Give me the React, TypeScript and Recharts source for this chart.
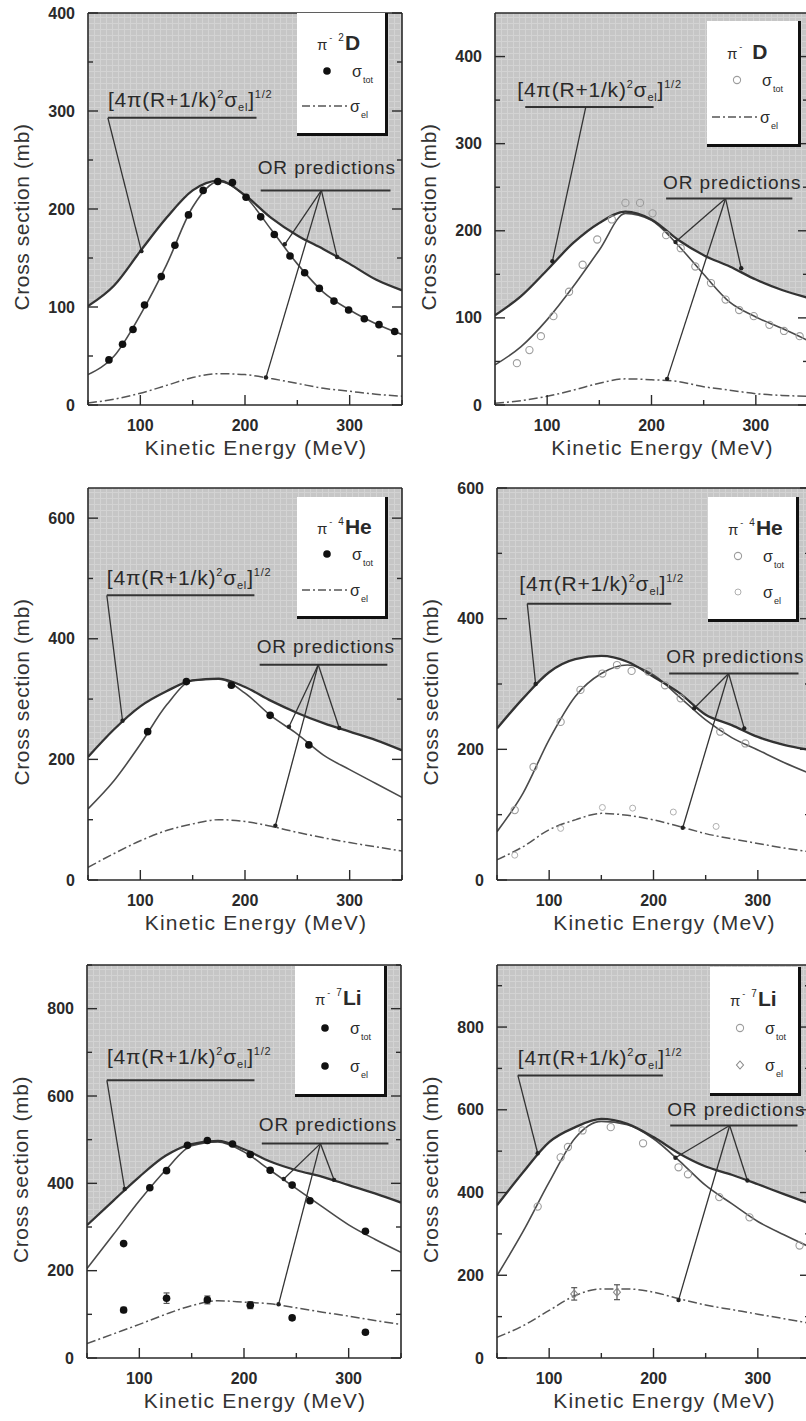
import React from 'react'
import {
  ComposedChart,
  Area,
  Line,
  Scatter,
  XAxis,
  YAxis,
  ReferenceLine,
  ReferenceDot,
  Legend,
  ErrorBar,
} from 'recharts'

const FONT = '"Liberation Sans", Arial, Helvetica, sans-serif'
const INK = '#2a2a2a'
const LW = 90
const TH = 14
const RW = 4
const BH = 70

// energies (MeV) where the curves are sampled
const energy = [50, 75, 100, 125, 150, 175, 200, 225, 250, 275, 300, 325, 350]
const xMajor = [100, 200, 300]
const xMinor = [50, 150, 250, 350]

// pi- 2D (top left)
const boundA = [101, 122, 157, 191, 219, 229, 214, 191, 173, 159, 144, 128, 117]
const orTotA = [31, 50, 92, 143, 202, 228, 213, 179, 144, 115, 97, 83, 72]
const orElA = [2, 6, 12, 20, 28, 32, 31, 27, 22, 17, 14, 11, 9]
const totEA = [70, 83, 93, 104, 120, 133, 146, 160, 174, 188, 201, 215, 228, 243, 257, 271, 285, 299, 314, 328, 343]
const totVA = [46, 62, 77, 102, 131, 163, 194, 219, 228, 227, 212, 192, 174, 152, 135, 119, 106, 97, 88, 82, 75]
const yMajorA = [0, 100, 200, 300, 400]
const yMinorA = [50, 150, 250, 350]

// pi- D (top right)
const boundB = [103, 125, 155, 186, 209, 222, 213, 190, 172, 159, 144, 132, 123]
const orTotB = [46, 67, 98, 136, 178, 220, 212, 184, 150, 118, 101, 88, 74]
const orElB = [2, 5, 10, 17, 25, 30, 29, 27, 21, 17, 13, 11, 10]
const totEB = [71, 83, 94, 106, 121, 134, 148, 162, 175, 189, 201, 214, 228, 242, 257, 271, 284, 298, 313, 327, 342]
const totVB = [48, 63, 79, 102, 130, 161, 190, 213, 232, 232, 220, 195, 180, 159, 140, 121, 109, 102, 92, 85, 79]
const yMajorB = [0, 100, 200, 300, 400]
const yMinorB = [50, 150, 250, 350]

// pi- 4He (middle left)
const boundC = [204, 250, 288, 313, 331, 334, 320, 297, 277, 260, 246, 232, 215]
const orTotC = [118, 165, 225, 290, 331, 333, 310, 272, 242, 207, 183, 160, 137]
const orElC = [21, 44, 65, 82, 93, 100, 97, 89, 79, 70, 62, 55, 48]
const totEC = [107, 144, 187, 224, 261]
const totVC = [246, 329, 323, 273, 224]
const yMajorC = [0, 200, 400, 600]
const yMinorC = [100, 300, 500]

// pi- 4He (middle right)
const boundD = [232, 278, 318, 338, 343, 334, 311, 286, 253, 237, 219, 207, 199]
const orTotD = [74, 133, 215, 281, 316, 329, 314, 280, 245, 218, 199, 180, 163]
const orElD = [31, 51, 77, 92, 102, 99, 92, 82, 71, 63, 56, 49, 43]
const totED = [67, 85, 111, 130, 151, 165, 179, 195, 211, 226, 264, 288]
const totVD = [107, 173, 242, 291, 316, 329, 320, 319, 298, 278, 227, 209]
const elED = [67, 111, 151, 180, 219, 260]
const elVD = [38, 79, 111, 110, 104, 82]
const yMajorD = [0, 200, 400, 600]
const yMinorD = [100, 300, 500]

// pi- 7Li (bottom left)
const boundE = [304, 360, 415, 463, 490, 497, 478, 450, 430, 415, 396, 377, 356]
const orTotE = [205, 282, 360, 430, 486, 495, 472, 430, 388, 346, 305, 272, 242]
const orElE = [33, 55, 77, 100, 120, 131, 128, 124, 115, 105, 96, 86, 77]
const totEE = [85, 110, 126, 146, 165, 189, 206, 225, 246, 263, 316]
const totVE = [262, 390, 429, 487, 498, 490, 466, 430, 396, 360, 290]
const elEE = [85, 126, 165, 206, 246, 316]
const elVE = [110, 137, 133, 121, 92, 59]
const elErrE = [6, 12, 9, 8, 5, 4]
const yMajorE = [0, 200, 400, 600, 800]
const yMinorE = [100, 300, 500, 700, 900]

// pi- 7Li (bottom right)
const boundF = [369, 449, 522, 558, 578, 566, 534, 494, 463, 443, 420, 396, 373]
const orTotF = [199, 306, 425, 532, 572, 564, 530, 476, 417, 373, 330, 298, 268]
const orElF = [50, 78, 115, 151, 167, 167, 159, 143, 128, 117, 106, 95, 84]
const totEF = [89, 111, 118, 132, 159, 190, 224, 233, 263, 292, 340]
const totVF = [366, 485, 510, 550, 558, 519, 461, 444, 389, 340, 272]
const elEF = [124, 165]
const elVF = [155, 159]
const elErrF = [15, 18]
const yMajorF = [0, 200, 400, 600, 800]
const yMinorF = [100, 300, 500, 700, 900]

type Pt = { x: number; y: number; err?: number }
const toPts = (xs: number[], ys: number[], errs?: number[]): Pt[] =>
  xs.map((x, i) => ({ x, y: ys[i], err: errs ? errs[i] : 0 }))
const toCurve = (ys: number[]): Pt[] => energy.map((x, i) => ({ x, y: ys[i] }))

type Rect = { x: number; y: number; w: number; h: number }
interface PanelCfg {
  id: string
  plot: Rect
  legend: Rect
  yMax: number
  yMajor: number[]
  yMinor: number[]
  bound: number[]
  orTot: number[]
  orEl: number[]
  tot: Pt[]
  el?: Pt[]
  totKind: string
  elKind?: string
  mass: string
  nucleus: string
  formula: { x1: number; x2: number; y: number; from: number; tip: [number, number]; dx: number; dy: number }
  pred: { x1: number; x2: number; y: number; apex: number; tips: [number, number][]; dy: number }
}

const panels: PanelCfg[] = [
  {
    id: 'a', plot: { x: 88, y: 13, w: 314, h: 392 }, legend: { x: 297, y: 13, w: 91, h: 123 },
    yMax: 400, yMajor: yMajorA, yMinor: yMinorA,
    bound: boundA, orTot: orTotA, orEl: orElA, tot: toPts(totEA, totVA), totKind: 'dot',
    mass: '2', nucleus: 'D',
    formula: { x1: 69, x2: 211, y: 293, from: 69, tip: [101, 157], dx: 0, dy: 11 },
    pred: { x1: 215, x2: 339, y: 219, apex: 273, tips: [[238, 164], [288, 151], [220, 28]], dy: 16 },
  },
  {
    id: 'b', plot: { x: 495, y: 13, w: 313, h: 392 }, legend: { x: 707, y: 21, w: 94, h: 126 },
    yMax: 450, yMajor: yMajorB, yMinor: yMinorB,
    bound: boundB, orTot: orTotB, orEl: orElB, tot: toPts(totEB, totVB), totKind: 'ring',
    mass: '', nucleus: 'D',
    formula: { x1: 79, x2: 202, y: 342, from: 137, tip: [105, 165], dx: -8, dy: 10 },
    pred: { x1: 214, x2: 335, y: 237, apex: 271, tips: [[223, 187], [286, 157], [215, 30]], dy: 10 },
  },
  {
    id: 'c', plot: { x: 88, y: 488, w: 314, h: 392 }, legend: { x: 297, y: 497, w: 91, h: 122 },
    yMax: 650, yMajor: yMajorC, yMinor: yMinorC,
    bound: boundC, orTot: orTotC, orEl: orElC, tot: toPts(totEC, totVC), totKind: 'dot',
    mass: '4', nucleus: 'He',
    formula: { x1: 68, x2: 209, y: 472, from: 68, tip: [83, 264], dx: 0, dy: 10 },
    pred: { x1: 214, x2: 336, y: 357, apex: 270, tips: [[242, 254], [290, 252], [229, 90]], dy: 12 },
  },
  {
    id: 'd', plot: { x: 497, y: 488, w: 313, h: 392 }, legend: { x: 708, y: 497, w: 91, h: 125 },
    yMax: 600, yMajor: yMajorD, yMinor: yMinorD,
    bound: boundD, orTot: orTotD, orEl: orElD, tot: toPts(totED, totVD), el: toPts(elED, elVD),
    totKind: 'ring', elKind: 'ringSmall',
    mass: '4', nucleus: 'He',
    formula: { x1: 79, x2: 217, y: 423, from: 79, tip: [87, 300], dx: -8, dy: 13 },
    pred: { x1: 215, x2: 339, y: 316, apex: 272, tips: [[239, 263], [287, 232], [228, 80]], dy: 11 },
  },
  {
    id: 'e', plot: { x: 87, y: 965, w: 314, h: 393 }, legend: { x: 295, y: 966, w: 92, h: 131 },
    yMax: 900, yMajor: yMajorE, yMinor: yMinorE,
    bound: boundE, orTot: orTotE, orEl: orElE, tot: toPts(totEE, totVE), el: toPts(elEE, elVE, elErrE),
    totKind: 'dot', elKind: 'dot',
    mass: '7', nucleus: 'Li',
    formula: { x1: 69, x2: 210, y: 636, from: 69, tip: [86, 387], dx: 0, dy: 16 },
    pred: { x1: 217, x2: 338, y: 491, apex: 273, tips: [[238, 410], [286, 408], [233, 123]], dy: 13 },
  },
  {
    id: 'f', plot: { x: 497, y: 965, w: 313, h: 393 }, legend: { x: 710, y: 967, w: 91, h: 129 },
    yMax: 950, yMajor: yMajorF, yMinor: yMinorF,
    bound: boundF, orTot: orTotF, orEl: orElF, tot: toPts(totEF, totVF), el: toPts(elEF, elVF, elErrF),
    totKind: 'ring', elKind: 'diamond',
    mass: '7', nucleus: 'Li',
    formula: { x1: 70, x2: 209, y: 683, from: 70, tip: [89, 495], dx: 0, dy: 10 },
    pred: { x1: 216, x2: 338, y: 562, apex: 273, tips: [[221, 484], [290, 429], [224, 140]], dy: 10 },
  },
]

function Marker({ kind, cx, cy }: { kind?: string; cx: number; cy: number }) {
  if (kind === 'dot') return <circle cx={cx} cy={cy} r={3.8} fill="#111" />
  if (kind === 'ring') return <circle cx={cx} cy={cy} r={3.6} fill="none" stroke="#9d9d9d" strokeWidth={1.1} />
  if (kind === 'ringSmall') return <circle cx={cx} cy={cy} r={3} fill="none" stroke="#b0b0b0" strokeWidth={1} />
  if (kind === 'diamond')
    return (
      <path
        d={`M${cx} ${cy - 4}L${cx + 3.5} ${cy}L${cx} ${cy + 4}L${cx - 3.5} ${cy}Z`}
        fill="none"
        stroke="#8a8a8a"
        strokeWidth={1.1}
      />
    )
  return null
}

function Sigma({ x, y, sub }: { x: number; y: number; sub: string }) {
  return (
    <text x={x} y={y} fill={INK} fontFamily={FONT} fontSize={16}>
      σ
      <tspan fontSize={9} dy={6} dx={1}>{sub}</tspan>
    </text>
  )
}

function LegendCard({ cfg }: { cfg: PanelCfg }) {
  const { w, h } = cfg.legend
  const tY = Math.round(h * 0.3)
  const r1 = Math.round(h * 0.47)
  const r2 = Math.round(h * 0.76)
  return (
    <div
      style={{
        width: w,
        height: h,
        background: '#fff',
        borderRight: '3px solid #111',
        borderBottom: '3px solid #111',
        boxSizing: 'border-box',
      }}
    >
      <svg width={w} height={h} style={{ display: 'block', overflow: 'visible' }}>
        <text x={20} y={tY} fill={INK} fontFamily={FONT}>
          <tspan fontSize={15}>π</tspan>
          <tspan fontSize={9} dy={-9} dx={2}>-</tspan>
          <tspan fontSize={10} dx={6}>{cfg.mass || ' '}</tspan>
          <tspan fontSize={21} fontWeight="bold" dy={9} dx={1}>{cfg.nucleus}</tspan>
        </text>
        <Marker kind={cfg.totKind} cx={30} cy={r1} />
        <Sigma x={55} y={r1 + 6} sub="tot" />
        {cfg.elKind ? (
          <Marker kind={cfg.elKind} cx={30} cy={r2} />
        ) : (
          <line x1={5} x2={52} y1={r2} y2={r2} stroke="#555" strokeWidth={1.4} strokeDasharray="8 3 2 3" />
        )}
        <Sigma x={cfg.elKind ? 55 : 53} y={r2 + 6} sub="el" />
      </svg>
    </div>
  )
}

function Panel({ cfg }: { cfg: PanelCfg }) {
  const { plot, yMax, formula, pred } = cfg
  const left = plot.x - LW
  const top = plot.y - TH
  const width = LW + plot.w + RW
  const height = TH + plot.h + BH
  const band = energy.map((x, i) => ({ x, band: [cfg.bound[i], yMax] }))
  const xTicks = [...xMajor, ...xMinor].sort((a, b) => a - b)
  const yTicks = [...cfg.yMajor, ...cfg.yMinor].filter((v) => v <= yMax).sort((a, b) => a - b)
  const ax = { xAxisId: 'b', yAxisId: 'l' }
  const axisLine = { stroke: INK, strokeWidth: 1.6 }
  const tickStyle = { stroke: INK, strokeWidth: 1.4 }
  const pid = `shade-${cfg.id}`

  return (
    <div style={{ position: 'absolute', left, top, width, height }}>
      <ComposedChart width={width} height={height} margin={{ top: 0, right: 0, bottom: 0, left: 0 }}>
        <defs>
          <pattern id={pid} width="6" height="6" patternUnits="userSpaceOnUse">
            <rect width="6" height="6" fill="#c6c6c6" />
            <path d="M0 0.5H6M0.5 0V6" stroke="#d3d3d3" strokeWidth="1" />
          </pattern>
        </defs>
        <XAxis
          xAxisId="b"
          dataKey="x"
          type="number"
          domain={[50, 350]}
          allowDataOverflow
          ticks={xTicks}
          interval={0}
          height={BH}
          tickLine={false}
          tickSize={0}
          tickMargin={0}
          axisLine={axisLine}
          tick={(p: any) => {
            const v = p.payload.value
            const major = xMajor.includes(v)
            return (
              <g>
                <line x1={p.x} x2={p.x} y1={p.y} y2={p.y - (major ? 10 : 5)} {...tickStyle} />
                {major && (
                  <text
                    x={p.x}
                    y={p.y + 20}
                    textAnchor="middle"
                    dominantBaseline="central"
                    fontFamily={FONT}
                    fontSize={16}
                    fontWeight="bold"
                    fill={INK}
                  >
                    {v}
                  </text>
                )}
              </g>
            )
          }}
          label={(p: any) => {
            const vb = p.viewBox
            return (
              <text
                x={vb.x + vb.width / 2 + 11}
                y={vb.y + 50}
                textAnchor="middle"
                fontFamily={FONT}
                fontSize={21}
                letterSpacing={1.2}
                fill="#333"
              >
                Kinetic Energy (MeV)
              </text>
            )
          }}
        />
        <XAxis
          xAxisId="t"
          orientation="top"
          type="number"
          domain={[50, 350]}
          allowDataOverflow
          ticks={xTicks}
          interval={0}
          height={TH}
          tickLine={false}
          tickSize={0}
          tickMargin={0}
          axisLine={axisLine}
          tick={(p: any) => {
            const major = xMajor.includes(p.payload.value)
            return <line x1={p.x} x2={p.x} y1={p.y} y2={p.y + (major ? 10 : 5)} {...tickStyle} />
          }}
        />
        <YAxis
          yAxisId="l"
          dataKey="y"
          type="number"
          domain={[0, yMax]}
          allowDataOverflow
          ticks={yTicks}
          interval={0}
          width={LW}
          tickLine={false}
          tickSize={0}
          tickMargin={0}
          axisLine={axisLine}
          tick={(p: any) => {
            const v = p.payload.value
            const major = cfg.yMajor.includes(v)
            return (
              <g>
                <line x1={p.x} x2={p.x + (major ? 10 : 5)} y1={p.y} y2={p.y} {...tickStyle} />
                {major && (
                  <text
                    x={p.x - 13}
                    y={p.y}
                    textAnchor="end"
                    dominantBaseline="central"
                    fontFamily={FONT}
                    fontSize={16}
                    fontWeight="bold"
                    fill={INK}
                  >
                    {v}
                  </text>
                )}
              </g>
            )
          }}
          label={(p: any) => {
            const vb = p.viewBox
            const cx = vb.x + vb.width - 67
            const cy = vb.y + vb.height / 2 + 8
            return (
              <text
                x={cx}
                y={cy}
                transform={`rotate(-90 ${cx} ${cy})`}
                textAnchor="middle"
                dominantBaseline="central"
                fontFamily={FONT}
                fontSize={21}
                letterSpacing={0.6}
                fill="#333"
              >
                Cross section (mb)
              </text>
            )
          }}
        />
        <YAxis
          yAxisId="r"
          orientation="right"
          type="number"
          domain={[0, yMax]}
          allowDataOverflow
          ticks={yTicks}
          interval={0}
          width={RW}
          tickLine={false}
          tickSize={0}
          tickMargin={0}
          axisLine={axisLine}
          tick={(p: any) => {
            const major = cfg.yMajor.includes(p.payload.value)
            return <line x1={p.x} x2={p.x - (major ? 10 : 5)} y1={p.y} y2={p.y} {...tickStyle} />
          }}
        />

        <Area {...ax} data={band} dataKey="band" type="monotone" fill={`url(#${pid})`} fillOpacity={1} stroke="none" isAnimationActive={false} />
        <Line {...ax} data={toCurve(cfg.orEl)} dataKey="y" type="monotone" stroke="#555" strokeWidth={1.5} strokeDasharray="9 3 2 3" dot={false} isAnimationActive={false} />
        <Line {...ax} data={toCurve(cfg.orTot)} dataKey="y" type="monotone" stroke="#4a4a4a" strokeWidth={1.6} dot={false} isAnimationActive={false} />
        <Line {...ax} data={toCurve(cfg.bound)} dataKey="y" type="monotone" stroke="#333" strokeWidth={2.3} dot={false} isAnimationActive={false} />

        {/* [4pi(R+1/k)^2 sigma_el]^1/2 annotation */}
        <ReferenceLine
          {...ax}
          segment={[{ x: formula.x1, y: formula.y }, { x: formula.x2, y: formula.y }]}
          stroke="#333"
          strokeWidth={2}
          ifOverflow="visible"
          label={(p: any) => {
            const vb = p.viewBox
            return (
              <text x={vb.x + formula.dx} y={vb.y - formula.dy} fill={INK} fontFamily={FONT} fontSize={21} letterSpacing={0.8}>
                [4π(R+1/k)
                <tspan fontSize={11} dy={-9}>2</tspan>
                <tspan dy={9}>σ</tspan>
                <tspan fontSize={11} dy={4}>el</tspan>
                <tspan dy={-4}>]</tspan>
                <tspan fontSize={11} dy={-9}>1/2</tspan>
              </text>
            )
          }}
        />
        <ReferenceLine
          {...ax}
          segment={[{ x: formula.from, y: formula.y }, { x: formula.tip[0], y: formula.tip[1] }]}
          stroke="#333"
          strokeWidth={1.3}
          ifOverflow="visible"
        />
        <ReferenceDot {...ax} x={formula.tip[0]} y={formula.tip[1]} r={2.2} fill="#222" stroke="none" />

        {/* OR predictions annotation */}
        <ReferenceLine
          {...ax}
          segment={[{ x: pred.x1, y: pred.y }, { x: pred.x2, y: pred.y }]}
          stroke="#333"
          strokeWidth={2}
          ifOverflow="visible"
          label={(p: any) => {
            const vb = p.viewBox
            return (
              <text x={vb.x - 3} y={vb.y - pred.dy} fill={INK} fontFamily={FONT} fontSize={19} letterSpacing={0.9}>
                OR predictions
              </text>
            )
          }}
        />
        {pred.tips.map((t, i) => (
          <ReferenceLine
            key={`pl${i}`}
            {...ax}
            segment={[{ x: pred.apex, y: pred.y }, { x: t[0], y: t[1] }]}
            stroke="#333"
            strokeWidth={1.3}
            ifOverflow="visible"
          />
        ))}
        {pred.tips.map((t, i) => (
          <ReferenceDot key={`pd${i}`} {...ax} x={t[0]} y={t[1]} r={2.2} fill="#222" stroke="none" />
        ))}

        <Scatter
          {...ax}
          data={cfg.tot}
          dataKey="y"
          isAnimationActive={false}
          shape={(p: any) => <Marker kind={cfg.totKind} cx={p.cx} cy={p.cy} />}
        />
        {cfg.el && (
          <Scatter
            {...ax}
            data={cfg.el}
            dataKey="y"
            isAnimationActive={false}
            shape={(p: any) => <Marker kind={cfg.elKind} cx={p.cx} cy={p.cy} />}
          >
            <ErrorBar dataKey="err" direction="y" width={3} stroke="#555" strokeWidth={1.2} />
          </Scatter>
        )}

        <Legend
          layout="horizontal"
          verticalAlign="middle"
          align="center"
          content={() => <LegendCard cfg={cfg} />}
          wrapperStyle={{
            position: 'absolute',
            left: cfg.legend.x - left,
            top: cfg.legend.y - top,
            width: cfg.legend.w,
            height: cfg.legend.h,
          }}
        />
      </ComposedChart>
    </div>
  )
}

export default function App() {
  return (
    <div
      style={{
        position: 'absolute',
        left: 0,
        top: 0,
        width: 806,
        height: 1421,
        overflow: 'hidden',
        background: '#fff',
        fontFamily: FONT,
      }}
    >
      {panels.map((cfg) => (
        <Panel key={cfg.id} cfg={cfg} />
      ))}
    </div>
  )
}
